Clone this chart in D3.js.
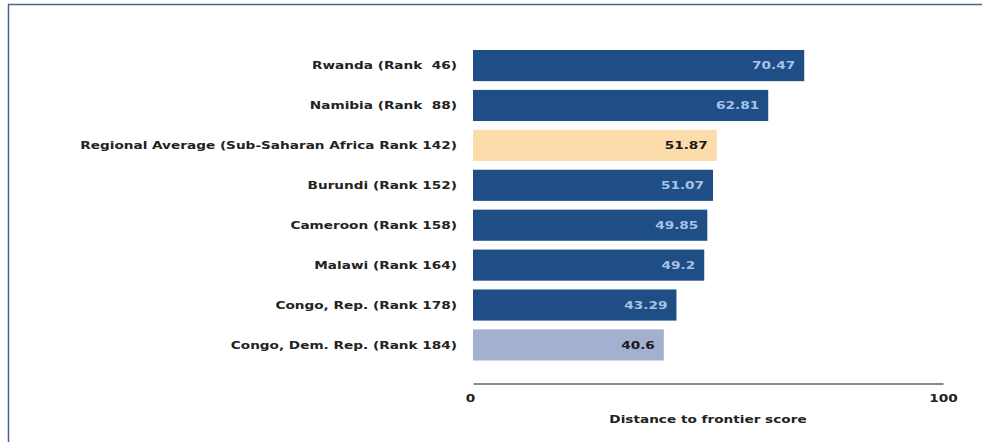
<!DOCTYPE html>
<html>
<head>
<meta charset="utf-8">
<script src="https://cdn.jsdelivr.net/npm/d3@7"></script>
<style>
  body { margin: 0; background: #fff; }
  text { font-family: "DejaVu Sans", Verdana, sans-serif; white-space: pre; }
</style>
</head>
<body>
<div id="chart"></div>
<script>
let width = 982, height = 442;
let margin = {top: 50, left: 473, right: 39, bottom: 82};

const categories = ["Rwanda (Rank  46)", "Namibia (Rank  88)",
  "Regional Average (Sub-Saharan Africa Rank 142)", "Burundi (Rank 152)",
  "Cameroon (Rank 158)", "Malawi (Rank 164)", "Congo, Rep. (Rank 178)",
  "Congo, Dem. Rep. (Rank 184)"];
const scores = [70.47, 62.81, 51.87, 51.07, 49.85, 49.2, 43.29, 40.6];
const labels = ["70.47", "62.81", "51.87", "51.07", "49.85", "49.2", "43.29", "40.6"];
const tickValues = [0, 100];

// bar styling: regional average peach, the focus economy pale blue
const fillFor = i => i === 2 ? "#fbdcaa" : (i === 7 ? "#a4b0cf" : "#1f4e87");
const textFor = i => (i === 2 || i === 7) ? "#1a1a1a" : "#a9c1e6";
const sx = 1.24; // the original text is rendered wide

let svg = d3.select("#chart").append("svg")
    .attr("width", width)
    .attr("height", height);

// frame: top and left rules
svg.append("line").attr("x1", 8).attr("x2", width).attr("y1", 4.5).attr("y2", 4.5)
    .attr("stroke", "#4a6490").attr("stroke-width", 1.5);
svg.append("line").attr("x1", 8.5).attr("x2", 8.5).attr("y1", 4).attr("y2", height)
    .attr("stroke", "#4a6490").attr("stroke-width", 1.5);

let x = d3.scaleLinear().domain([0, 100]).range([margin.left, width - margin.right]);
let y = d3.scaleBand().domain(categories)
    .range([margin.top, margin.top + 310.5]).paddingInner(0.22).paddingOuter(0);

let rows = svg.append("g").selectAll("g.row")
    .data(categories)
    .join("g")
    .attr("class", "row");

rows.append("rect")
    .attr("x", x(0))
    .attr("y", d => y(d))
    .attr("width", (d, i) => x(scores[i]) - x(0))
    .attr("height", y.bandwidth())
    .attr("fill", (d, i) => fillFor(i));

rows.append("text")
    .attr("transform", (d, i) => `translate(${x(scores[i]) - 9},${y(d) + y.bandwidth() / 2}) scale(${sx},1)`)
    .attr("dy", "0.35em")
    .attr("text-anchor", "end")
    .attr("font-size", 11)
    .attr("font-weight", "bold")
    .attr("fill", (d, i) => textFor(i))
    .text((d, i) => labels[i]);

rows.append("text")
    .attr("transform", d => `translate(${x(0) - 16},${y(d) + y.bandwidth() / 2}) scale(${sx},1)`)
    .attr("dy", "0.35em")
    .attr("text-anchor", "end")
    .attr("font-size", 11)
    .attr("font-weight", "bold")
    .attr("fill", "#222")
    .text(d => d);

// axis
let axisY = 383.5;
let axis = svg.append("g")
    .attr("transform", `translate(0,${axisY})`)
    .call(d3.axisBottom(x).tickValues(tickValues).tickSize(0).tickPadding(0));
axis.select(".domain").attr("stroke", "#8a8a8a").attr("stroke-width", 2);
axis.selectAll(".tick text")
    .attr("y", 0)
    .attr("dy", 0)
    .attr("transform", d => `translate(${d === 0 ? -3 : 0},18) scale(${sx},1)`)
    .attr("font-size", 11)
    .attr("font-weight", "bold")
    .attr("fill", "#222")
    .attr("font-family", "DejaVu Sans, sans-serif");

svg.append("text")
    .attr("transform", `translate(${(x(0) + x(100)) / 2},423) scale(${sx},1)`)
    .attr("text-anchor", "middle")
    .attr("font-size", 11)
    .attr("font-weight", "bold")
    .attr("fill", "#222")
    .text("Distance to frontier score");
</script>
</body>
</html>
